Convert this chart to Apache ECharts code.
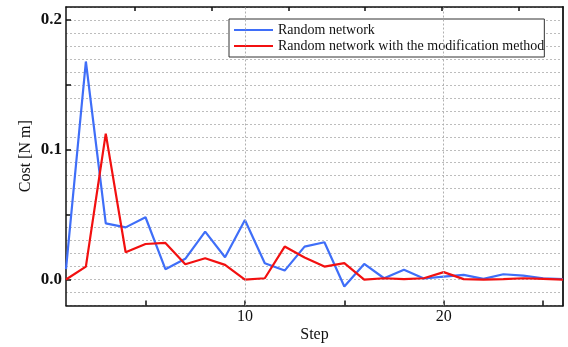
<!DOCTYPE html>
<html>
<head>
<meta charset="utf-8">
<script src="https://cdn.jsdelivr.net/npm/echarts@6/dist/echarts.min.js"></script>
<style>
html,body{margin:0;padding:0;background:#fff;}
#chart{width:568px;height:347px;}
</style>
</head>
<body>
<div id="chart"></div>
<script>
var steps = [1,2,3,4,5,6,7,8,9,10,11,12,13,14,15,16,17,18,19,20,21,22,23,24,25,26];
var randomNetwork = [0.008, 0.168, 0.0433, 0.0402, 0.048, 0.008, 0.016, 0.0369, 0.0172, 0.0459, 0.0126, 0.0069, 0.0254, 0.0287, -0.0054, 0.012, 0.001, 0.0075, 0.0008, 0.0023, 0.0036, 0.0005, 0.0041, 0.003, 0.001, 0.0003];
var modifiedNetwork = [0.0, 0.010, 0.1124, 0.021, 0.0274, 0.0282, 0.0118, 0.0164, 0.0113, 0.0, 0.001, 0.0254, 0.017, 0.010, 0.0126, 0.0, 0.001, 0.0003, 0.001, 0.0057, 0.0003, 0.0, 0.0003, 0.001, 0.0005, 0.0];
var xTickValues = [5, 10, 15, 20, 25];
var xLabelValues = [10, 20];
var xGridValues = [10, 20];
var topTickValues = [4.48, 8.34, 12.19, 16.05, 19.9, 23.76];
var yTickValues = [0, 0.05, 0.1, 0.15, 0.2];
var yLabelValues = [0, 0.1, 0.2];
var seriesNames = ['Random network', 'Random network with the modification method'];

function pairs(vals){ return steps.map(function(s,i){ return [s, vals[i]]; }); }

var FONT = '"Liberation Serif", "Times New Roman", serif';
var chart = echarts.init(document.getElementById('chart'), null, {renderer:'canvas'});
chart.setOption({
  animation: false,
  backgroundColor: '#fff',
  grid: {left: 66, right: 5, top: 7, bottom: 41.5, containLabel: false, outerBoundsMode: 'none'},
  legend: {
    left: 229, top: 19,
    orient: 'vertical',
    backgroundColor: '#fff',
    borderColor: '#333', borderWidth: 1,
    padding: [4, 0, 4, 5],
    itemWidth: 39, itemHeight: 14, itemGap: 2,
    textStyle: {fontFamily: FONT, fontSize: 14, color: '#111'},
    data: [
      {name: seriesNames[0], icon: 'path://M0,6 L39,6 L39,8 L0,8 Z'},
      {name: seriesNames[1], icon: 'path://M0,6 L39,6 L39,8 L0,8 Z'}
    ]
  },
  xAxis: [{
    type: 'value', min: 1, max: 26, position: 'bottom',
    name: 'Step', nameLocation: 'middle', nameGap: 21, nameMoveOverlap: false,
    nameTextStyle: {fontFamily: FONT, fontSize: 16, color: '#111'},
    axisLine: {show: true, onZero: false, lineStyle: {color: '#111', width: 1.5}},
    axisTick: {show: true, inside: true, length: 5, customValues: xTickValues, lineStyle: {color: '#111', width: 1.5}},
    axisLabel: {show: true, margin: 3, customValues: xLabelValues, fontFamily: FONT, fontSize: 16, color: '#111'},
    splitLine: {show: false}
  }, {
    type: 'value', min: 1, max: 26, position: 'top',
    axisLine: {show: true, onZero: false, lineStyle: {color: '#111', width: 1.5}},
    axisTick: {show: true, inside: true, length: 4, customValues: topTickValues, lineStyle: {color: '#111', width: 1.5}},
    axisLabel: {show: false},
    splitLine: {show: false}
  }],
  yAxis: [{
    type: 'value', min: -0.02, max: 0.21, interval: 0.01, position: 'left',
    name: 'Cost [N m]', nameLocation: 'middle', nameGap: 32, nameRotate: 90, nameMoveOverlap: false,
    nameTextStyle: {fontFamily: FONT, fontSize: 16, color: '#111'},
    axisLine: {show: true, onZero: false, lineStyle: {color: '#111', width: 1.5}},
    axisTick: {show: false},
    axisLabel: {show: true, margin: 4, fontFamily: FONT, fontSize: 17, fontWeight: 'bold', color: '#111',
      formatter: function(v){
        for (var i=0;i<yLabelValues.length;i++){ if (Math.abs(v-yLabelValues[i])<1e-9) return yLabelValues[i].toFixed(1); }
        return '';
      }},
    splitLine: {show: true, lineStyle: {color: '#bdbdbd', width: 1, type: [2, 2]}}
  }, {
    type: 'value', min: -0.02, max: 0.21, position: 'left',
    axisLine: {show: false},
    axisTick: {show: true, inside: true, length: 5, customValues: yTickValues, lineStyle: {color: '#111', width: 1.5}},
    axisLabel: {show: false},
    splitLine: {show: false}
  }, {
    type: 'value', min: -0.02, max: 0.21, position: 'right',
    axisLine: {show: true, onZero: false, lineStyle: {color: '#2a2a2a', width: 2}},
    axisTick: {show: false}, axisLabel: {show: false}, splitLine: {show: false}
  }],
  series: [{
    type: 'line', name: '_grid', xAxisIndex: 0, yAxisIndex: 0, data: [], z: 1, silent: true,
    markLine: {
      silent: true, symbol: 'none', label: {show: false},
      lineStyle: {color: '#b0b0b0', width: 1, type: [2, 2]},
      data: xGridValues.map(function(v){ return {xAxis: v}; })
    }
  }, {
    type: 'line', name: seriesNames[0], data: pairs(randomNetwork), xAxisIndex: 0, yAxisIndex: 0,
    showSymbol: false, symbol: 'none', z: 3,
    lineStyle: {color: '#3f6ef8', width: 2.2}, itemStyle: {color: '#3f6ef8'}
  }, {
    type: 'line', name: seriesNames[1], data: pairs(modifiedNetwork), xAxisIndex: 0, yAxisIndex: 0,
    showSymbol: false, symbol: 'none', z: 4,
    lineStyle: {color: '#f21010', width: 2.2}, itemStyle: {color: '#f21010'}
  }]
});
</script>
</body>
</html>
